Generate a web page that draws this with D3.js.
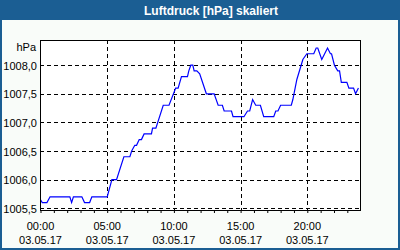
<!DOCTYPE html>
<html>
<head>
<meta charset="utf-8">
<script src="https://cdn.jsdelivr.net/npm/d3@7"></script>
<style>
  body { margin: 0; background: #fff; }
  svg text { font-family: "Liberation Sans", Arial, sans-serif; }
</style>
</head>
<body>
<div id="chart"></div>
<script>
// readings (time of day, hPa)
const times = ['00:00','00:08','00:29','00:43','02:12','02:20','02:28','03:06','03:18','03:41','03:51','05:00',
  '05:21','05:42','06:15','06:42','06:50','07:04','07:12','07:24','07:34','07:46','08:19','08:24','08:39',
  '09:12','09:38','10:08','10:19','10:34','11:01','11:07','11:16','11:25','11:31','11:43','11:56','12:26',
  '13:01','13:19','13:38','13:46','14:19','14:26','15:15','15:31','15:41','15:54','16:08','16:29','16:44',
  '17:29','17:38','17:48','18:00','18:48','18:55','19:13','19:40','19:58','20:29','20:40','20:47','21:05',
  '21:31','21:44','21:49','22:02','22:17','22:25','22:33','22:58','23:07','23:28','23:37','23:50'];
const pressure = [1005.65,1005.6,1005.6,1005.7,1005.7,1005.6,1005.7,1005.7,1005.6,1005.6,1005.7,1005.7,
  1006.0,1006.0,1006.4,1006.4,1006.5,1006.6,1006.6,1006.7,1006.7,1006.8,1006.8,1006.9,1006.9,
  1007.3,1007.3,1007.6,1007.6,1007.8,1007.8,1007.9,1008.0,1008.0,1007.9,1007.9,1007.85,1007.5,
  1007.5,1007.3,1007.3,1007.2,1007.2,1007.1,1007.1,1007.2,1007.2,1007.4,1007.3,1007.3,1007.1,
  1007.1,1007.2,1007.2,1007.3,1007.3,1007.4,1007.75,1008.1,1008.2,1008.2,1008.3,1008.3,1008.1,
  1008.3,1008.2,1008.2,1008.0,1007.9,1007.9,1007.7,1007.7,1007.6,1007.6,1007.5,1007.6];
const yTicks = [1005.5, 1006.0, 1006.5, 1007.0, 1007.5, 1008.0];
const xTickHours = [0, 5, 10, 15, 20];
const dateLabel = '03.05.17';
const title = 'Luftdruck [hPa] skaliert';

const W = 400, H = 250;
const plot = { left: 40, right: 360, top: 40, bottom: 210 };
const day = new Date(2017, 4, 3);
const parseT = t => { const [h, m] = t.split(':').map(Number); return new Date(2017, 4, 3, h, m); };
const data = times.map((t, i) => ({ t: parseT(t), v: pressure[i] }));

const svg = d3.select('#chart').append('svg')
  .attr('width', W).attr('height', H);

// frame + title bar
svg.append('rect').attr('width', W).attr('height', H).attr('fill', '#1b5e93');
svg.append('rect').attr('x', 2).attr('y', 20).attr('width', W - 4).attr('height', H - 22).attr('fill', '#f9fcf9');
svg.append('text')
  .attr('x', 211).attr('y', 14.5)
  .attr('text-anchor', 'middle')
  .attr('fill', '#fff')
  .style('font-weight', 'bold')
  .style('font-size', '12px')
  .text(title);

const x = d3.scaleTime()
  .domain([day, new Date(2017, 4, 3, 23, 57)])
  .range([plot.left + 0.5, plot.right]);
const y = d3.scaleLinear()
  .domain([1005.47, 1008.44])
  .range([plot.bottom, plot.top]);

svg.append('rect')
  .attr('x', plot.left).attr('y', plot.top)
  .attr('width', plot.right - plot.left).attr('height', plot.bottom - plot.top)
  .attr('fill', '#fff');

// dashed grid
svg.append('g').selectAll('line')
  .data(yTicks).join('line')
  .attr('x1', plot.left).attr('x2', plot.right)
  .attr('y1', d => Math.round(y(d)) + 0.5).attr('y2', d => Math.round(y(d)) + 0.5)
  .attr('stroke', '#000').attr('stroke-dasharray', '4,3');

const xTicks = xTickHours.map(h => new Date(2017, 4, 3, h));
svg.append('g').selectAll('line')
  .data(xTicks.slice(1)).join('line')
  .attr('x1', d => Math.round(x(d)) + 0.5).attr('x2', d => Math.round(x(d)) + 0.5)
  .attr('y1', plot.top).attr('y2', plot.bottom)
  .attr('stroke', '#000').attr('stroke-dasharray', '4,3');

// hourly minor ticks on the bottom axis
const xAxis = d3.axisBottom(x)
  .ticks(d3.timeHour.every(1))
  .tickSize(3)
  .tickFormat('');
const gx = svg.append('g')
  .attr('transform', `translate(0,${plot.bottom})`)
  .call(xAxis);
gx.select('.domain').remove();
gx.selectAll('line').attr('stroke', '#000');

// x labels: time + date
const xl = svg.append('g').selectAll('g')
  .data(xTicks).join('g')
  .attr('transform', d => `translate(${x(d)},0)`)
  .style('font-size', '11px')
  .attr('text-anchor', 'middle')
  .attr('fill', '#000');
xl.append('text').attr('y', 229.5).text(d => d3.timeFormat('%H:%M')(d));
xl.append('text').attr('y', 243.5).text(dateLabel);

// y labels
const fmt = d => d3.format('.1f')(d).replace('.', ',');
svg.append('g').selectAll('text')
  .data(yTicks).join('text')
  .attr('x', 37).attr('y', d => y(d) + 4.5)
  .attr('text-anchor', 'end')
  .style('font-size', '11px')
  .text(fmt);
svg.append('text')
  .attr('x', 36).attr('y', 50.5)
  .attr('text-anchor', 'end')
  .style('font-size', '11px')
  .text('hPa');

// pressure line
svg.append('path')
  .datum(data)
  .attr('fill', 'none')
  .attr('stroke', '#0000ff')
  .attr('stroke-width', 1.2)
  .attr('d', d3.line().x(d => x(d.t)).y(d => y(d.v)));

// plot border
svg.append('rect')
  .attr('x', plot.left + 0.5).attr('y', plot.top + 0.5)
  .attr('width', plot.right - plot.left).attr('height', plot.bottom - plot.top)
  .attr('fill', 'none').attr('stroke', '#000');
</script>
</body>
</html>
